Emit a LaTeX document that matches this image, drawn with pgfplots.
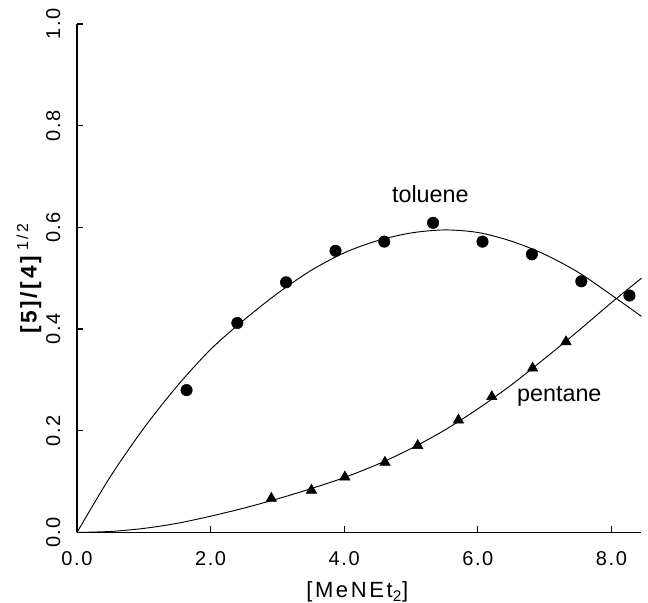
\documentclass[border=0pt]{standalone}
\usepackage{fontspec}
\setmainfont{Liberation Sans}
\newfontfamily\widefont[LetterSpace=12]{Liberation Sans}
\newfontfamily\tickfont[LetterSpace=8]{Liberation Sans}
\usepackage{pgfplots}
\pgfplotsset{compat=1.18}
\usetikzlibrary{calc}

\begin{document}
\begin{tikzpicture}
\begin{axis}[
  scale only axis,
  width=423.4pt, height=381.4pt,
  xmin=0, xmax=8.45, ymin=0, ymax=1,
  axis x line*=bottom, axis y line*=left,
  axis line style={-, line width=1.1pt},
  xtick={0,2,4,6,8}, ytick={0,0.2,0.4,0.6,0.8,1.0},
  tick align=inside, major tick length=4.5pt,
  tick style={line width=0.9pt, black},
  /pgf/number format/assume math mode=true,
  /pgf/number format/.cd, fixed, fixed zerofill, precision=1, /pgfplots/.cd,
  tick label style={font=\tickfont\fontsize{15}{17}\selectfont},
  x tick label style={yshift=-11pt},
  y tick label style={xshift=-9pt, rotate=90, anchor=south},
  clip=false,
]
% fitted curves
\addplot[black, line width=0.7pt, smooth] coordinates {
  (0,0) (0.5,0.11) (1,0.205) (1.5,0.288) (2,0.36) (2.5,0.418) (3,0.47)
  (3.5,0.515) (4,0.55) (4.5,0.574) (5,0.589) (5.5,0.595) (6,0.59)
  (6.5,0.573) (7,0.547) (7.5,0.512) (8,0.467) (8.45,0.425) };
\addplot[black, line width=0.7pt, smooth] coordinates {
  (0,0) (0.5,0.002) (1,0.008) (1.5,0.018) (2,0.032) (2.5,0.048) (3,0.066)
  (3.5,0.086) (4,0.108) (4.5,0.134) (5,0.165) (5.5,0.201) (6,0.243)
  (6.5,0.29) (7,0.342) (7.5,0.396) (8,0.452) (8.45,0.5) };
% toluene
\addplot[only marks, mark=*, mark size=4.3pt, black] coordinates {
  (1.64,0.28) (2.40,0.412) (3.13,0.492) (3.87,0.554) (4.60,0.572)
  (5.33,0.609) (6.07,0.572) (6.81,0.547) (7.55,0.494) (8.27,0.466) };
% pentane
\addplot[only marks, mark=triangle*, mark size=4.5pt, black] coordinates {
  (2.91,0.067) (3.51,0.083) (4.01,0.109) (4.61,0.138) (5.10,0.171)
  (5.71,0.221) (6.21,0.267) (6.82,0.323) (7.32,0.375) };

\node[font=\fontsize{17.5}{20}\selectfont] at (axis cs:5.29,0.665) {toluene};
\node[font=\fontsize{17.5}{20}\selectfont] at (axis cs:7.22,0.267) {pentane};

\path (rel axis cs:0.5,0) ++(-1.5pt,-44.6pt) node[font=\widefont\fontsize{16.5}{19}\selectfont] {[MeNEt\textsubscript{2}]};
\path (rel axis cs:0,0.5) ++(-36pt,0) node[rotate=90, font=\widefont\fontsize{17}{19}\selectfont]
  {\textbf{[5]/[4]}\textsuperscript{\,1\,/\,2}};

\coordinate (bl) at (rel axis cs:0,0);
\coordinate (tr) at (rel axis cs:1,1);
\end{axis}
\pgfresetboundingbox
\path ($(bl)+(-57.75pt,-52.9pt)$) rectangle ($(tr)+(4.9pt,18pt)$);
\end{tikzpicture}
\end{document}
